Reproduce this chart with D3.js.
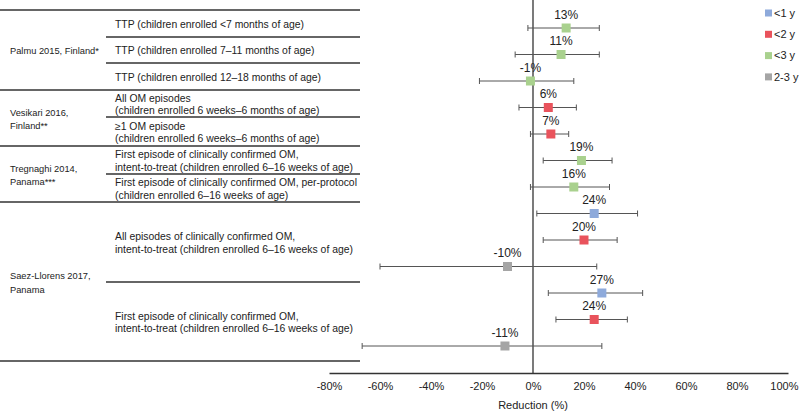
<!DOCTYPE html>
<html><head><meta charset="utf-8">
<script src="https://cdn.jsdelivr.net/npm/d3@7"></script>
<style>
body{margin:0;background:#fff;}
svg{display:block;}
text{font-family:"Liberation Sans Narrow","Arial Narrow","Liberation Sans",Arial,sans-serif;fill:#222;}
</style></head><body>
<svg id="chart" width="800" height="413"></svg>
<script>
// ---- data ----
const studies = ["Palmu 2015, Finland*", "Vesikari 2016,\nFinland**", "Tregnaghi 2014,\nPanama***", "Saez-Llorens 2017,\nPanama"];
const outcomes = [
  "TTP (children enrolled <7 months of age)",
  "TTP (children enrolled 7–11 months of age)",
  "TTP (children enrolled 12–18 months of age)",
  "All OM episodes\n(children enrolled 6 weeks–6 months of age)",
  "≥1 OM episode\n(children enrolled 6 weeks–6 months of age)",
  "First episode of clinically confirmed OM,\nintent-to-treat (children enrolled 6–16 weeks of age)",
  "First episode of clinically confirmed OM, per-protocol\n(children enrolled 6–16 weeks of age)",
  "All episodes of clinically confirmed OM,\nintent-to-treat (children enrolled 6–16 weeks of age)",
  "First episode of clinically confirmed OM,\nintent-to-treat (children enrolled 6–16 weeks of age)"
];
const outcomeStudy = [0,0,0,1,1,2,2,3,3];
const rowAge =     ["<3 y","<3 y","<3 y","<2 y","<2 y","<3 y","<3 y","<1 y","<2 y","2-3 y","<1 y","<2 y","2-3 y"];
const estimate =   [13, 11, -1, 6, 7, 19, 16, 24, 20, -10, 27, 24, -11];
const ciLow =      [-2, -7, -21, -5.5, -1, 4, -1, 1.5, 4, -60, 6, 9, -67];
const ciHigh =     [26, 26, 16, 17, 14, 31, 30, 41, 33, 25, 43, 37, 27];
const ageGroups =  ["<1 y", "<2 y", "<3 y", "2-3 y"];
const ageColors =  ["#8eaadb", "#e9535c", "#a9d18e", "#a5a5a5"];
const xTicks =     [-80, -60, -40, -20, 0, 20, 40, 60, 80, 100];

const svg = d3.select("#chart");
const color = d3.scaleOrdinal().domain(ageGroups).range(ageColors);
const x = d3.scaleLinear().domain([-80, 100]).range([329, 788]);
const y = d3.scaleLinear().domain([0, 12]).range([28, 346]);

// ---- left table ----
const cellBounds = [10, 37, 63, 90, 117, 146, 174, 202, 282, 361]; // outcome cell edges
const lineCol = "#333";
const tbl = svg.append("g");
cellBounds.forEach((yy, i) => {
  let full = (i === 0 || i === cellBounds.length - 1);
  if (!full) full = outcomeStudy[i] !== outcomeStudy[i - 1];
  tbl.append("line").attr("x1", full ? 0 : 106).attr("x2", 360)
    .attr("y1", yy).attr("y2", yy).attr("stroke", lineCol).attr("stroke-width", 1.3);
});
function multiline(g, str, xx, cy, size, lh) {
  const lines = str.split("\n");
  const t = g.append("text").attr("x", xx).attr("font-size", size);
  lines.forEach((l, i) => {
    t.append("tspan").attr("x", xx)
      .attr("y", cy + (i - (lines.length - 1) / 2) * lh)
      .attr("dy", "0.35em").text(l);
  });
}
outcomes.forEach((o, i) => {
  const cy = (cellBounds[i] + cellBounds[i + 1]) / 2;
  multiline(tbl, o, 115, cy + (o.includes("\n") ? 1 : 0.5), 10.4, 12.5);
});
studies.forEach((s, si) => {
  const idx = outcomeStudy.map((d, i) => d === si ? i : -1).filter(i => i >= 0);
  const top = cellBounds[idx[0]], bot = cellBounds[idx[idx.length - 1] + 1];
  multiline(tbl, s, 10, (top + bot) / 2 + 1, 9.3, 13.5);
});

// ---- axes ----
const axisY = 373;
svg.append("line").attr("x1", x(0)).attr("x2", x(0)).attr("y1", 0).attr("y2", axisY)
  .attr("stroke", "#333").attr("stroke-width", 1.3);
const xAxis = d3.axisBottom(x).tickValues(xTicks).tickSize(0).tickPadding(9)
  .tickFormat(d => d + "%");
const ax = svg.append("g").attr("transform", `translate(0,${axisY})`).call(xAxis);
ax.select(".domain").attr("stroke", "#333").attr("stroke-width", 1.3);
ax.selectAll("text").attr("font-size", 11).attr("fill", "#222")
  .attr("font-family", "Liberation Sans Narrow, Arial Narrow, Liberation Sans, Arial, sans-serif");
ax.selectAll(".tick").filter(d => d === 100).select("text")
  .attr("text-anchor", "end").attr("dx", 0).attr("x", 798 - x(100));
svg.append("text").attr("x", x(0)).attr("y", 405).attr("dy", "0.35em")
  .attr("text-anchor", "middle").attr("font-size", 11).text("Reduction (%)");

// ---- forest marks ----
const rows = estimate.map((e, i) => ({i, e, lo: ciLow[i], hi: ciHigh[i], age: rowAge[i]}));
const g = svg.append("g");
const rg = g.selectAll("g.row").data(rows).join("g").attr("class", "row");
rg.append("line").attr("x1", d => x(d.lo)).attr("x2", d => x(d.hi))
  .attr("y1", d => y(d.i)).attr("y2", d => y(d.i)).attr("stroke", "#555").attr("stroke-width", 1);
rg.append("line").attr("x1", d => x(d.lo)).attr("x2", d => x(d.lo))
  .attr("y1", d => y(d.i) - 3).attr("y2", d => y(d.i) + 3).attr("stroke", "#555");
rg.append("line").attr("x1", d => x(d.hi)).attr("x2", d => x(d.hi))
  .attr("y1", d => y(d.i) - 3).attr("y2", d => y(d.i) + 3).attr("stroke", "#555");
const ms = 9;
rg.append("rect").attr("x", d => x(d.e) - ms / 2).attr("y", d => y(d.i) - ms / 2)
  .attr("width", ms).attr("height", ms).attr("fill", d => color(d.age));
rg.append("text").attr("x", d => x(d.e)).attr("y", d => y(d.i) - 13.5).attr("dy", "0.35em")
  .attr("text-anchor", "middle").attr("font-size", 12).text(d => d.e + "%");

// ---- legend ----
const lg = svg.append("g").selectAll("g").data(ageGroups).join("g")
  .attr("transform", (d, i) => `translate(765,${13 + i * 21.3})`);
lg.append("rect").attr("x", 0).attr("y", -3.5).attr("width", 7).attr("height", 7).attr("fill", d => color(d));
lg.append("text").attr("x", 9).attr("dy", "0.35em").attr("font-size", 11).text(d => d);
</script>
</body></html>
